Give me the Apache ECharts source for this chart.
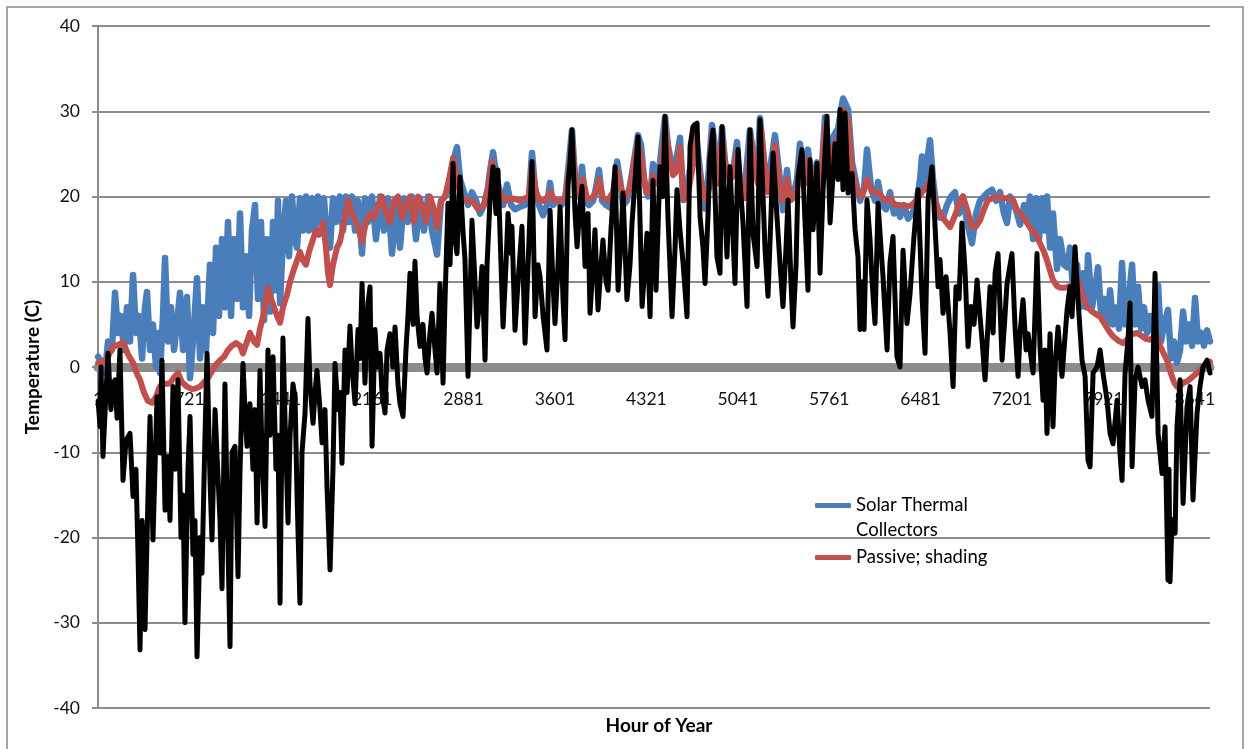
<!DOCTYPE html>
<html>
<head>
<meta charset="utf-8">
<script src="https://cdn.jsdelivr.net/npm/echarts@6/dist/echarts.min.js"></script>
<style>
  html, body { margin: 0; padding: 0; background: #ffffff; }
  #chart { width: 1249px; height: 749px; }
</style>
</head>
<body>
<div id="chart"></div>
<script>
// Hourly temperatures over a year: [hour of year, °C]
const solarThermal = [[1,1.2],[32,0.5],[55,-0.7],[79,3],[110,2],[134,8.7],[158,4],[181,6],[205,2],[228,7],[252,3],[276,10.8],[299,4],[323,6],[347,1],[370,7],[386,8.8],[410,2],[433,5],[457,0],[473,4],[488,-0.7],[512,6],[528,12.8],[551,3],[575,7],[599,2],[622,5],[646,8.7],[670,2],[701,8.2],[725,-1.3],[748,3],[780,10.4],[804,1],[827,7],[851,2],[882,12],[906,4],[930,14],[953,6],[977,15],[1000,7],[1024,17],[1048,6],[1071,15],[1095,8],[1119,18],[1142,7],[1166,13],[1190,6],[1213,16],[1237,19],[1260,8],[1284,17],[1308,5.5],[1331,15],[1355,6.5],[1379,17],[1402,9],[1418,19.5],[1434,7.5],[1457,15],[1481,19.5],[1505,13],[1528,20],[1552,15],[1568,14],[1591,19.8],[1615,16],[1639,20],[1662,16],[1686,19.8],[1710,16],[1733,20],[1757,17],[1780,19.8],[1804,15],[1828,14],[1851,19.8],[1875,17],[1906,20],[1930,16],[1954,20],[1977,17],[2001,20],[2025,16],[2048,19.5],[2080,13.3],[2103,19.8],[2127,17],[2159,20],[2190,15],[2222,20],[2253,16],[2285,19.8],[2316,13.3],[2348,19],[2379,14],[2411,19.8],[2442,17],[2474,20],[2505,15],[2537,19.8],[2568,16],[2600,20],[2631,16],[2671,13.2],[2702,19.5],[2734,20],[2765,21],[2797,24],[2828,25.8],[2852,22],[2883,20.5],[2915,19],[2946,20.5],[2978,19.5],[3009,18],[3041,19],[3072,21],[3088,23],[3112,25.2],[3143,22],[3167,20.5],[3191,19],[3222,21.4],[3254,19],[3285,18.5],[3325,18.8],[3364,19],[3395,20],[3419,25.1],[3443,21],[3474,19],[3506,17.8],[3537,19],[3561,21.6],[3584,19],[3616,19.5],[3648,19],[3679,19.5],[3703,23],[3734,27.8],[3758,22],[3789,20],[3813,23.5],[3837,19.5],[3868,19],[3900,19.5],[3923,21],[3947,23.1],[3971,19.5],[4002,19],[4034,18.7],[4065,21],[4089,24.1],[4112,22],[4136,19],[4167,19.5],[4199,22],[4231,25],[4254,27.2],[4278,26],[4301,22],[4333,20],[4357,21],[4372,23.8],[4396,22],[4427,24],[4467,29.3],[4490,26],[4522,23.5],[4553,24],[4585,26.9],[4609,19.6],[4640,21],[4672,24],[4703,28.4],[4735,24],[4758,21],[4782,18.6],[4806,22],[4837,28.4],[4869,25],[4892,22],[4916,28],[4940,24],[4971,22.5],[5003,23],[5034,26.4],[5058,21],[5089,20],[5113,24],[5136,27.8],[5168,24],[5192,22],[5215,29.2],[5247,24],[5270,20.8],[5302,24],[5333,27.2],[5365,23],[5396,18.4],[5428,23.1],[5452,19.6],[5475,20],[5507,22],[5530,26.2],[5562,22],[5593,25.5],[5625,21],[5664,24],[5688,20],[5727,29.3],[5759,24],[5790,27],[5830,28],[5869,31.5],[5909,30.2],[5940,24],[5979,21.1],[6003,19.5],[6035,21],[6058,25.5],[6090,21],[6121,19.5],[6145,21.7],[6176,19],[6208,18.5],[6239,20.5],[6271,18],[6294,19],[6318,17.6],[6350,19],[6381,17.4],[6413,18],[6444,19],[6476,22],[6491,24.7],[6515,21],[6539,25],[6554,26.6],[6578,22],[6602,19],[6633,17.5],[6657,17.5],[6688,19],[6720,20],[6751,20.5],[6783,18],[6814,20],[6846,17],[6885,14.5],[6917,18],[6948,19.5],[6980,20],[7011,20.5],[7043,20.8],[7074,19.5],[7106,20.5],[7137,18],[7161,16.9],[7185,20],[7208,19.5],[7240,18],[7264,16.7],[7295,19],[7319,17],[7342,20],[7366,15],[7390,19.8],[7413,15],[7437,19.8],[7460,16],[7476,20],[7500,14],[7523,18],[7555,11.5],[7579,15],[7610,12],[7634,11.7],[7657,14],[7681,9],[7713,12],[7736,7],[7760,11],[7783,7],[7799,13.1],[7831,7],[7854,9],[7878,11.7],[7902,6],[7925,8],[7949,5],[7973,9],[7996,5],[8020,7],[8043,4.5],[8067,12.2],[8091,5],[8114,7],[8146,12],[8170,5],[8193,9.4],[8217,4.5],[8240,7],[8264,4],[8288,6],[8319,4],[8351,9.6],[8374,3],[8398,5],[8429,6.7],[8453,1],[8477,3],[8500,0.5],[8524,2],[8548,6.5],[8571,3],[8595,5],[8619,2.5],[8642,8.1],[8666,3],[8689,4],[8713,2.5],[8737,4.3],[8760,3]];

const passiveShading = [[1,0.5],[39,0.5],[79,1.2],[118,2.4],[158,2.6],[197,2.9],[236,1.5],[276,0.5],[307,-0.8],[331,-1.5],[362,-3],[394,-4],[425,-4.2],[457,-3.5],[481,-2.5],[504,-1.9],[536,-2],[567,-1.9],[599,-1.2],[630,-0.7],[662,-1.8],[701,-2.3],[741,-2.6],[772,-2.5],[804,-2.3],[835,-1.8],[867,-1.3],[898,-0.5],[930,0.3],[961,0.8],[993,1.2],[1024,2],[1056,2.5],[1087,2.8],[1119,2.5],[1142,1.6],[1174,3],[1197,4],[1229,3],[1253,2.6],[1276,4.5],[1300,5.9],[1324,8],[1339,9.3],[1363,8],[1387,7],[1410,6],[1434,5.2],[1457,7],[1489,8.5],[1513,10],[1544,11.5],[1568,12.5],[1591,13.5],[1615,12.5],[1639,12],[1662,13.5],[1694,15],[1717,16],[1741,15.5],[1773,16.9],[1796,14],[1812,11],[1828,9.6],[1851,12],[1883,14],[1906,14.7],[1938,17],[1970,19.6],[2001,18],[2033,17],[2056,16],[2080,14.7],[2111,17],[2143,18],[2174,17.5],[2206,19],[2237,20],[2269,18],[2300,17],[2332,19.5],[2363,20],[2395,17.5],[2426,19],[2458,20],[2489,17],[2521,20],[2552,19],[2584,17],[2615,20],[2647,18.5],[2671,16.4],[2702,19.5],[2734,20],[2765,22],[2797,24.5],[2828,22],[2860,20],[2899,19.5],[2946,19.5],[2994,18.5],[3041,19],[3072,21],[3104,24.1],[3135,22],[3167,20.5],[3206,19.5],[3246,19.8],[3285,19.7],[3325,19.5],[3364,19.8],[3395,20],[3419,23.5],[3451,20.5],[3482,19.5],[3521,19.5],[3561,20.5],[3600,19.5],[3640,19.5],[3679,19.8],[3703,22],[3734,26.5],[3766,21],[3797,20],[3821,22],[3852,19.8],[3892,19.8],[3923,20.5],[3947,22],[3978,19.8],[4018,19.6],[4057,20.5],[4089,23],[4120,21],[4152,19.8],[4191,21],[4223,24],[4254,26.3],[4286,24],[4317,20.5],[4349,20.5],[4372,22.5],[4404,21.5],[4435,23],[4467,28.2],[4498,25],[4530,22.5],[4561,23],[4585,25.8],[4617,19.6],[4648,20.5],[4680,23],[4703,27.3],[4735,23],[4766,20.5],[4790,19.5],[4813,21],[4837,27.3],[4869,24],[4892,21.5],[4916,27],[4947,23],[4979,22],[5010,22.5],[5034,25.3],[5066,20.5],[5097,19.8],[5121,23],[5144,26.7],[5176,23],[5199,21.5],[5223,28],[5255,23],[5278,20.5],[5310,23],[5333,26],[5365,22],[5396,19.5],[5428,22],[5459,19.6],[5491,20],[5515,21.5],[5538,25],[5570,21.5],[5593,24.4],[5625,20.5],[5656,23],[5688,20],[5727,28.2],[5759,23],[5798,26],[5838,27],[5869,30.2],[5909,29],[5940,23],[5979,20.5],[6019,20],[6058,22],[6098,20.5],[6145,20.5],[6200,19.5],[6239,19.8],[6279,19],[6318,19],[6365,18.8],[6413,19],[6460,19.8],[6491,20.5],[6523,21],[6554,21.9],[6586,20],[6618,18.5],[6649,17.6],[6681,17],[6712,16.4],[6744,17.5],[6767,18.4],[6791,19.5],[6814,20],[6846,18.5],[6885,16.4],[6917,16.5],[6948,17.2],[6980,18.5],[7011,19.6],[7051,19.8],[7090,20],[7129,19.8],[7169,19.8],[7208,19.6],[7240,18.4],[7279,17.8],[7319,16.9],[7358,16],[7390,15.5],[7421,14.5],[7453,13.5],[7476,12.5],[7500,11.3],[7523,10.2],[7555,9.5],[7579,9.3],[7618,9.3],[7657,9.5],[7697,9.9],[7720,10.2],[7752,8.5],[7791,7.1],[7831,6.5],[7862,6.2],[7894,5.9],[7933,5],[7965,4.2],[7996,3.6],[8036,3.1],[8075,2.8],[8106,3.2],[8138,3.8],[8185,4],[8225,3.6],[8256,3.3],[8288,3.2],[8319,3.5],[8343,3.6],[8366,2.5],[8398,1.5],[8421,0.8],[8453,-0.8],[8477,-1.8],[8500,-2.3],[8532,-2.1],[8555,-1.8],[8579,-1.7],[8611,-1.3],[8634,-1],[8658,-0.7],[8689,-0.3],[8721,0.2],[8760,0.6]];

const outdoorTemp = [[1,-4],[16,-7],[24,0],[39,-10.5],[63,-3],[79,1.6],[102,-5],[118,-2],[134,-1.5],[150,-6],[173,2],[197,-13.3],[221,-8.6],[252,-7.8],[276,-15.2],[299,-12],[315,-21.8],[331,-33.2],[347,-18],[355,-21],[370,-30.8],[394,-15],[410,-5.8],[433,-20.3],[465,-3.5],[488,-10.1],[504,0.8],[528,-16.8],[551,-10.5],[567,-18],[591,-2.3],[607,-12],[630,-1.5],[654,-20],[670,-15],[685,-30],[709,-12],[725,-5.8],[748,-22],[764,-18],[780,-34],[804,-20],[819,-24.2],[843,-8],[859,1.6],[882,-13],[898,-20.3],[922,-5],[937,-10.1],[961,-18],[977,-26],[1000,-2],[1016,-15],[1040,-32.8],[1056,-10],[1079,-9.3],[1103,-24.6],[1119,-12],[1142,0.4],[1158,-5],[1174,-9.3],[1197,-4.3],[1221,-12],[1237,-5],[1253,-18.3],[1276,-0.4],[1292,-10],[1316,-18.7],[1339,2],[1355,-8],[1379,1.2],[1402,-12],[1418,-8],[1434,-27.7],[1457,3.4],[1473,-6],[1497,-18.3],[1513,-8],[1536,-2],[1552,-3.5],[1568,-15],[1591,-27.7],[1607,-10],[1631,-5.4],[1654,5.7],[1670,-2],[1694,-6.6],[1710,-3],[1725,-0.4],[1749,-5],[1765,-8.9],[1788,-5],[1804,-14],[1828,-23.8],[1851,-12],[1867,0.4],[1891,-5],[1906,-3],[1922,-11.3],[1946,2],[1962,-3],[1985,4.8],[2001,0],[2025,-4.3],[2048,4.4],[2064,1],[2080,9.8],[2103,-1.9],[2127,7.5],[2143,9.4],[2159,-9.3],[2182,4.4],[2198,0],[2222,1.6],[2237,-3],[2261,-5.4],[2277,2],[2300,3.9],[2324,0],[2340,4.7],[2363,-2],[2379,-4.3],[2403,-5.8],[2426,2],[2442,6],[2458,11],[2482,5],[2497,12.4],[2513,6],[2537,2.4],[2560,5],[2576,1],[2592,-0.7],[2615,4],[2631,6.3],[2655,2],[2671,-0.7],[2694,9.8],[2718,-1.9],[2734,8],[2757,19.2],[2773,12],[2797,23.9],[2812,15],[2828,13.3],[2852,22.3],[2875,16],[2891,12.6],[2915,-1.1],[2931,8],[2946,17.2],[2970,10],[2986,4.7],[3009,8],[3025,11.8],[3049,0.8],[3065,12],[3088,19.6],[3112,23.5],[3135,18],[3151,23.1],[3175,12],[3191,4.7],[3214,12],[3230,18],[3254,13.3],[3261,16.5],[3285,4.3],[3309,10],[3340,16.5],[3364,2.8],[3388,12],[3403,18],[3419,24.1],[3443,5.9],[3466,12],[3482,10.6],[3506,6],[3537,2],[3561,18.4],[3584,10],[3600,5.1],[3624,12],[3640,18.8],[3663,8],[3679,3.2],[3703,21.5],[3718,24],[3734,27.8],[3758,18],[3774,14.1],[3797,19],[3813,21.2],[3837,11.8],[3860,18],[3876,6.3],[3900,12],[3915,16.1],[3939,6.7],[3963,12],[3978,14.9],[4002,10],[4018,9],[4041,16.1],[4073,23.5],[4097,9],[4120,15],[4136,20.4],[4167,7.9],[4191,12],[4207,16.9],[4231,22],[4254,27],[4286,7.1],[4309,12],[4325,15.7],[4349,5.9],[4372,21.9],[4396,9],[4427,23.5],[4451,20],[4467,29.4],[4490,17.6],[4522,5.9],[4546,14],[4561,20.8],[4585,16],[4609,12.2],[4640,5.9],[4664,25.9],[4687,28.2],[4719,28.6],[4743,17.6],[4766,14],[4782,9.8],[4806,18],[4821,24.7],[4845,27.8],[4876,12.9],[4900,11],[4916,28.2],[4940,18],[4955,12.9],[4979,23.5],[5003,15],[5018,9.8],[5042,25.5],[5066,20],[5081,16.9],[5113,7.1],[5136,27.8],[5160,15.7],[5192,11.8],[5215,29],[5239,20],[5255,13.7],[5278,8.3],[5302,18],[5318,25.1],[5349,17.6],[5373,12],[5396,7.1],[5420,14],[5436,19.6],[5459,10],[5475,4.7],[5499,12],[5515,22.3],[5546,25.5],[5570,16.9],[5593,9],[5609,24.3],[5633,16.1],[5664,23.9],[5688,11],[5712,20.8],[5743,29.4],[5767,16.9],[5806,26.2],[5830,22],[5845,30.2],[5869,20.8],[5885,29.8],[5909,20.4],[5940,22.7],[5964,16.1],[5987,12.9],[6003,4.4],[6019,10],[6035,4.4],[6058,19.6],[6082,14.9],[6098,10],[6121,5.1],[6145,19.2],[6168,14],[6184,10.6],[6216,2],[6239,12.2],[6263,15.3],[6294,1.2],[6318,0],[6342,13.7],[6373,5.1],[6397,8.6],[6428,15.3],[6460,20.8],[6491,8.3],[6515,1.6],[6539,19.6],[6570,23.5],[6594,16.5],[6618,9.4],[6633,12.6],[6657,6.3],[6681,10.6],[6712,4],[6736,-2.3],[6759,9.4],[6783,8],[6806,16.9],[6830,11.4],[6854,2.4],[6877,7.1],[6901,5],[6925,10.2],[6948,6],[6964,3.2],[6988,-1.5],[7011,5],[7027,9.4],[7051,4],[7067,11],[7090,13.3],[7122,0.8],[7145,6],[7161,9.8],[7200,13.3],[7224,4.7],[7248,-1.1],[7264,4],[7287,7.9],[7311,2],[7327,3.9],[7366,-0.7],[7397,13.3],[7421,2.4],[7445,-3.9],[7460,2],[7476,-7.8],[7500,3.9],[7523,-7],[7539,0],[7563,4.7],[7594,-1.1],[7634,6.7],[7657,9.4],[7673,5.9],[7697,14.1],[7720,7.9],[7752,0.8],[7776,-1.1],[7799,-10.9],[7815,-11.7],[7839,-0.7],[7870,0],[7894,2],[7917,-0.7],[7949,-3.9],[7973,-7.8],[7996,-9],[8028,-3.9],[8051,-10.1],[8067,-13.3],[8091,-0.7],[8114,3.2],[8130,7.5],[8146,-11.7],[8170,-1.5],[8193,0],[8225,-2.3],[8248,-1.5],[8272,-3.9],[8303,-5.8],[8327,11],[8351,-7.8],[8382,-12.5],[8406,-7],[8429,-25],[8437,-12],[8445,-25.2],[8461,-17.9],[8485,-19.5],[8500,-7],[8524,-1.5],[8548,-16],[8579,-4.7],[8603,-2.3],[8626,-15.6],[8658,-5.4],[8681,-2.3],[8705,0],[8737,0.8],[8760,-0.7]];

const seriesNames = ['Solar Thermal Collectors', 'Passive; shading', 'Outdoor'];
const yTicks = { min: -40, max: 40, step: 10 };
const xTicks = { min: 0, max: 8760, step: 720 };

const FONT = 'Lato, "Noto Sans", sans-serif';
const GRID_GRAY = '#8c8c8c';

const GRID = { left: 98, right: 39, top: 26, bottom: 41 };
const PLOT_H = 749 - GRID.top - GRID.bottom;
// the hour axis sits on the 0 °C line, so shift it up from the bottom edge
const zeroShift = -PLOT_H * (0 - yTicks.min) / (yTicks.max - yTicks.min);

const chart = echarts.init(document.getElementById('chart'), null, { renderer: 'canvas' });

chart.setOption({
  animation: false,
  backgroundColor: '#ffffff',
  textStyle: { fontFamily: FONT },
  grid: Object.assign({ containLabel: false }, GRID),
  title: {
    text: 'Hour of Year',
    left: 654,
    top: 711,
    textAlign: 'center',
    textStyle: { fontFamily: FONT, fontSize: 19, fontWeight: 'bold', color: '#000' }
  },
  legend: {
    data: seriesNames.slice(0, 2),
    orient: 'vertical',
    left: 815,
    top: 468,
    padding: 0,
    itemGap: 2,
    itemWidth: 36,
    itemHeight: 5,
    icon: 'roundRect',
    selectedMode: false,
    formatter: name => name === 'Solar Thermal Collectors' ? ' \nSolar Thermal\nCollectors' : name,
    textStyle: { fontFamily: FONT, fontSize: 18.5, color: '#000', lineHeight: 25 }
  },
  xAxis: {
    type: 'value',
    min: xTicks.min,
    max: xTicks.max,
    interval: xTicks.step,
    offset: zeroShift,
    axisLine: { onZero: false, lineStyle: { color: GRID_GRAY, width: 9 } },
    axisTick: { show: false },
    splitLine: { show: false },
    axisLabel: {
      margin: 23,
      fontSize: 17.5,
      fontFamily: FONT,
      color: '#111',
      showMaxLabel: false,
      formatter: v => String(v + 1)
    }
  },
  yAxis: {
    type: 'value',
    min: yTicks.min,
    max: yTicks.max,
    interval: yTicks.step,
    name: 'Temperature (C)',
    nameLocation: 'middle',
    nameGap: 55,
    nameTextStyle: { fontFamily: FONT, fontSize: 19, fontWeight: 'bold', color: '#000' },
    axisLine: { show: true, onZero: false, lineStyle: { color: GRID_GRAY, width: 2 } },
    axisTick: { show: true, inside: false, length: 6, lineStyle: { color: GRID_GRAY, width: 2 } },
    splitLine: { show: true, lineStyle: { color: GRID_GRAY, width: 2 } },
    axisLabel: { margin: 18, fontSize: 17.5, fontFamily: FONT, color: '#111' }
  },
  graphic: [{
    type: 'rect',
    z: -10,
    silent: true,
    shape: { x: 7, y: 7, width: 1236, height: 800 },
    style: { fill: 'none', stroke: GRID_GRAY, lineWidth: 1.5 }
  }],
  series: [
    {
      name: seriesNames[0],
      type: 'line',
      data: solarThermal,
      color: '#4a7ebb',
      showSymbol: false,
      symbol: 'none',
      z: 2,
      lineStyle: { width: 6.5, color: '#4a7ebb', cap: 'round', join: 'round' }
    },
    {
      name: seriesNames[1],
      type: 'line',
      data: passiveShading,
      color: '#c0504d',
      showSymbol: false,
      symbol: 'none',
      z: 3,
      lineStyle: { width: 6, color: '#c0504d', cap: 'round', join: 'round' }
    },
    {
      name: seriesNames[2],
      type: 'line',
      data: outdoorTemp,
      color: '#000000',
      showSymbol: false,
      symbol: 'none',
      z: 4,
      lineStyle: { width: 5, color: '#000000', cap: 'round', join: 'round' }
    }
  ]
});
</script>
</body>
</html>
